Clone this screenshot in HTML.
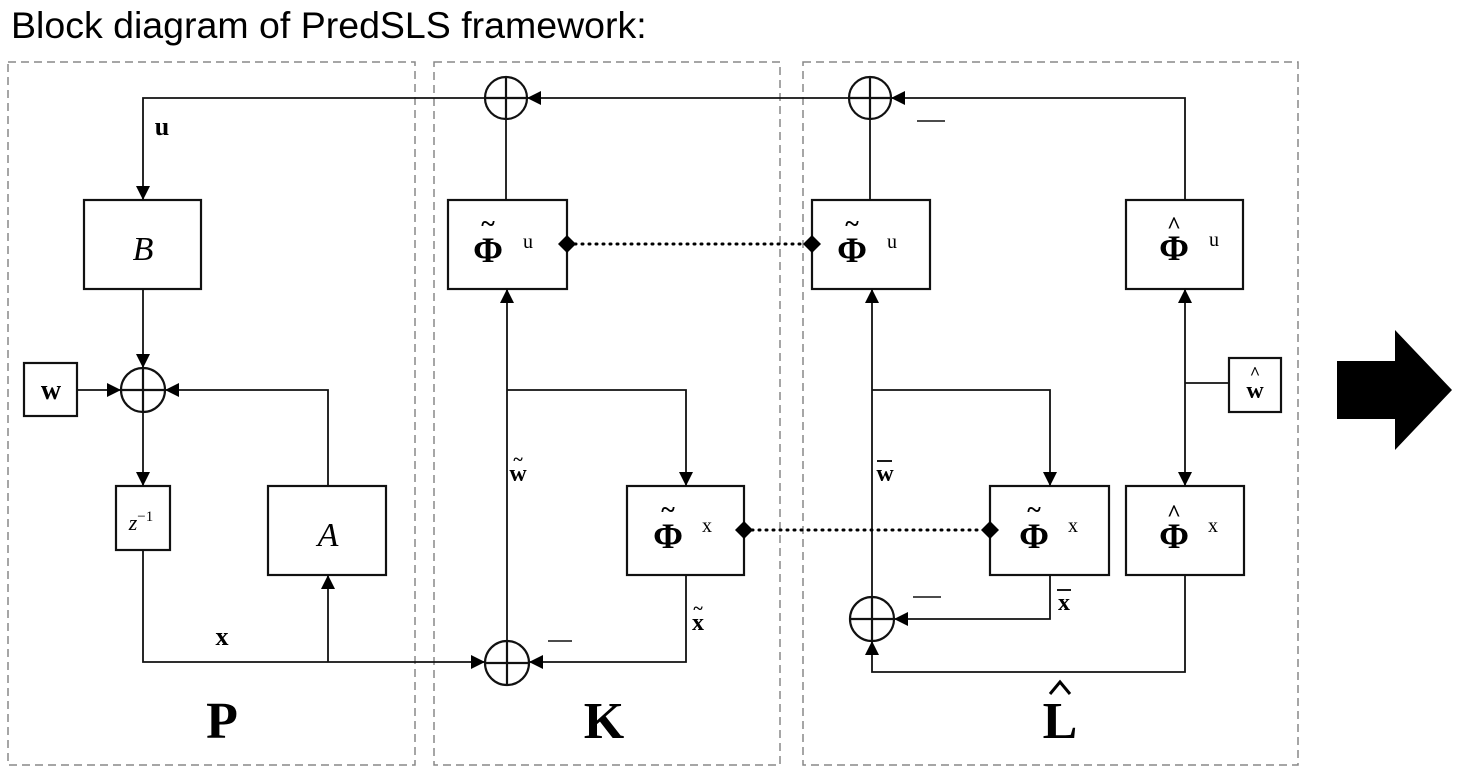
<!DOCTYPE html>
<html><head><meta charset="utf-8"><style>
body{margin:0;background:#fff;width:1462px;height:776px;overflow:hidden}
svg text{font-family:"Liberation Serif",serif}
</style></head><body>
<svg width="1462" height="776" viewBox="0 0 1462 776" xmlns="http://www.w3.org/2000/svg">
<defs>
<marker id="a" viewBox="0 0 10 10" refX="10" refY="5" markerWidth="14" markerHeight="14" markerUnits="userSpaceOnUse" orient="auto"><path d="M0,0L10,5L0,10z" fill="#000"/></marker>
<marker id="as" viewBox="0 0 10 10" refX="10" refY="5" markerWidth="14" markerHeight="14" markerUnits="userSpaceOnUse" orient="auto-start-reverse"><path d="M0,0L10,5L0,10z" fill="#000"/></marker>
</defs>
<text x="11" y="38" style="font-family:'Liberation Sans',sans-serif;font-size:37.5px">Block diagram of PredSLS framework:</text>
<g fill="none" stroke="#888" stroke-width="1.5" stroke-dasharray="8,5">
<rect x="8" y="62" width="407" height="703"/>
<rect x="434" y="62" width="346" height="703"/>
<rect x="803" y="62" width="495" height="703"/>
</g>
<g fill="none" stroke="#111" stroke-width="2.2">
<rect x="84" y="200" width="117" height="89"/>
<rect x="24" y="363" width="53" height="53"/>
<rect x="116" y="486" width="54" height="64"/>
<rect x="268" y="486" width="118" height="89"/>
<rect x="448" y="200" width="119" height="89"/>
<rect x="627" y="486" width="117" height="89"/>
<rect x="812" y="200" width="118" height="89"/>
<rect x="990" y="486" width="119" height="89"/>
<rect x="1126" y="200" width="117" height="89"/>
<rect x="1126" y="486" width="118" height="89"/>
<rect x="1229" y="358" width="52" height="54"/>
<circle cx="506" cy="98" r="21"/><path d="M485 98h42M506 77v42"/>
<circle cx="870" cy="98" r="21"/><path d="M849 98h42M870 77v42"/>
<circle cx="143" cy="390" r="22"/><path d="M121 390h44M143 368v44"/>
<circle cx="507" cy="663" r="22"/><path d="M485 663h44M507 641v44"/>
<circle cx="872" cy="619" r="22"/><path d="M850 619h44M872 597v44"/>
</g>
<g fill="none" stroke="#111" stroke-width="1.8">
<path d="M485 98H143V200" marker-end="url(#a)"/>
<path d="M850 98H527" marker-end="url(#a)"/>
<path d="M1185 200V98H891" marker-end="url(#a)"/>
<path d="M143 289V368" marker-end="url(#a)"/>
<path d="M77 390H121" marker-end="url(#a)"/>
<path d="M328 486V390H165" marker-end="url(#a)"/>
<path d="M143 412V486" marker-end="url(#a)"/>
<path d="M143 550V662H485" marker-end="url(#a)"/>
<path d="M328 662V575" marker-end="url(#a)"/>
<path d="M506 119V200"/>
<path d="M507 641V289" marker-end="url(#a)"/>
<path d="M507 390H686V486" marker-end="url(#a)"/>
<path d="M686 575V662H529" marker-end="url(#a)"/>
<path d="M870 119V200"/>
<path d="M872 597V289" marker-end="url(#a)"/>
<path d="M872 390H1050V486" marker-end="url(#a)"/>
<path d="M1050 575V619H894" marker-end="url(#a)"/>
<path d="M1185 575V672H872V641" marker-end="url(#a)"/>
<path d="M1185 289V486" marker-start="url(#as)" marker-end="url(#a)"/>
<path d="M1185 383H1229"/>
<path d="M548 641h24M913 597h28M917 121h28" stroke-width="1.6"/>
</g>
<g stroke="#000" stroke-width="3" stroke-dasharray="1,6" stroke-linecap="round">
<path d="M575 244H805"/><path d="M752 530H983"/>
</g>
<g fill="#000">
<path d="M567 235l9 9-9 9-9-9z"/><path d="M812 235l9 9-9 9-9-9z"/>
<path d="M744 521l9 9-9 9-9-9z"/><path d="M990 521l9 9-9 9-9-9z"/>
<path d="M1337 361H1395V330L1452 390L1395 450V419H1337z"/>
</g>
<g font-size="30" text-anchor="middle">
<text x="143" y="260" font-style="italic" font-size="34">B</text>
<text x="328" y="546" font-style="italic" font-size="34">A</text>
<text x="141" y="530" font-size="22" font-style="italic">z<tspan dy="-9" font-size="15" font-style="normal">−1</tspan></text>
<text x="51" y="399" font-weight="bold" font-size="28">w</text>
<text x="162" y="135" font-weight="bold" font-size="26">u</text>
<text x="222" y="645" font-weight="bold" font-size="26">x</text>
<text x="222" y="738" font-weight="bold" font-size="52">P</text>
<text x="604" y="738" font-weight="bold" font-size="52">K</text>
<text x="1060" y="738" font-weight="bold" font-size="52">L</text>
<path d="M1050 694l10-12 10 12" fill="none" stroke="#000" stroke-width="3"/>
<g font-weight="bold" font-size="36">
<text x="488" y="262">Φ</text><text x="488" y="232" font-size="26">~</text><text x="528" y="248" font-size="20" font-weight="normal">u</text>
<text x="852" y="262">Φ</text><text x="852" y="232" font-size="26">~</text><text x="892" y="248" font-size="20" font-weight="normal">u</text>
<text x="1174" y="260">Φ</text><text x="1174" y="233" font-size="24">^</text><text x="1214" y="246" font-size="20" font-weight="normal">u</text>
<text x="668" y="548">Φ</text><text x="668" y="518" font-size="26">~</text><text x="707" y="532" font-size="20" font-weight="normal">x</text>
<text x="1034" y="548">Φ</text><text x="1034" y="518" font-size="26">~</text><text x="1073" y="532" font-size="20" font-weight="normal">x</text>
<text x="1174" y="548">Φ</text><text x="1174" y="521" font-size="24">^</text><text x="1213" y="532" font-size="20" font-weight="normal">x</text>
</g>
<g font-weight="bold" font-size="24">
<text x="518" y="481">w</text><text x="518" y="465" font-size="18">~</text>
<text x="885" y="481">w</text><path d="M877 461h15" stroke="#000" stroke-width="1.8"/>
<text x="698" y="630">x</text><text x="698" y="614" font-size="18">~</text>
<text x="1064" y="610">x</text><path d="M1057 590h14" stroke="#000" stroke-width="1.8"/>
<text x="1255" y="398">w</text><text x="1255" y="379" font-size="18">^</text>
</g>
</g>
</svg>
</body></html>
